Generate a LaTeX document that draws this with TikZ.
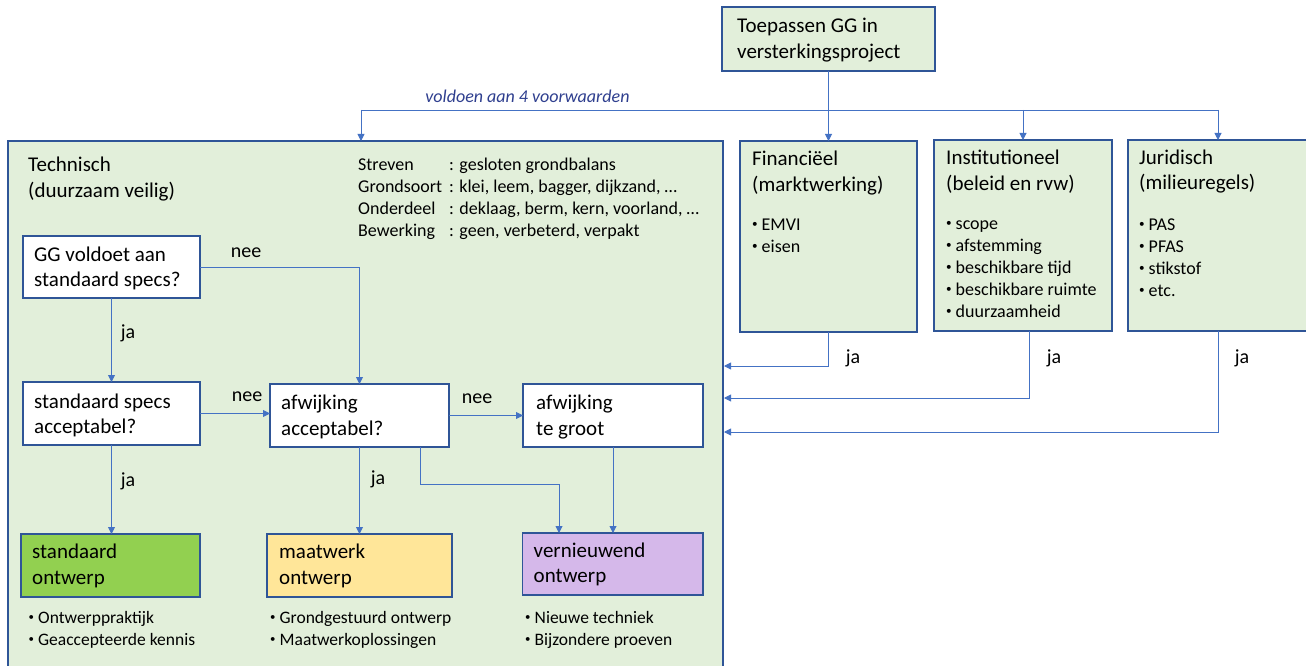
\documentclass[tikz,border=0pt]{standalone}
\usepackage{fontspec}
\setmainfont{Carlito}
\usetikzlibrary{arrows.meta}
\definecolor{paleg}{HTML}{E2EFDA}
\definecolor{frame}{HTML}{2F5597}
\definecolor{link}{HTML}{4472C4}
\definecolor{stdgreen}{HTML}{92D050}
\definecolor{custyellow}{HTML}{FFE699}
\definecolor{newpurple}{HTML}{D5B8EA}
\definecolor{notecol}{HTML}{2F3F8F}
\newcommand{\itm}[1]{\makebox[9.5pt][l]{\raisebox{0.16em}{\scalebox{0.62}{•}}}#1}
\newcommand{\rowlbl}[1]{\makebox[91pt][l]{#1}}
\begin{document}
\begin{tikzpicture}[x=1pt,y=-1pt,
  panel/.style={draw=frame, line width=1.4pt, fill=paleg, anchor=north west,
    inner sep=0pt, outer sep=0pt},
  choice/.style={panel, fill=white},
  conn/.style={draw=link, line width=0.9pt},
  arr/.style={conn, -{Triangle[length=7pt,width=7pt]}},
  ttl/.style={anchor=west, align=left, inner sep=0pt, font=\fontsize{21}{25.5}\selectfont},
  body/.style={anchor=west, align=left, inner sep=0pt, font=\fontsize{18}{22}\selectfont},
  small/.style={anchor=west, align=left, inner sep=0pt, font=\fontsize{17.5}{22}\selectfont},
  lbl/.style={inner sep=0pt, font=\fontsize{20}{24}\selectfont},
  note/.style={inner sep=0pt, text=notecol, font=\fontsize{18}{22}\selectfont\itshape}
]
\clip (0,0) rectangle (1306,666);
\fill[white] (0,0) rectangle (1306,666);

% main panels
\node[panel, minimum width=213pt, minimum height=64pt] (top) at (722,7) {};
\node[panel, minimum width=715pt, minimum height=545pt] (tech) at (8,141) {};
\node[panel, minimum width=177pt, minimum height=191pt] (fin) at (740,141) {};
\node[panel, minimum width=178pt, minimum height=191pt] (inst) at (934,140) {};
\node[panel, minimum width=180pt, minimum height=191pt] (jur) at (1128,140) {};

% decision boxes inside the technical panel
\node[choice, minimum width=177pt, minimum height=62pt] (gg) at (23,236) {};
\node[choice, minimum width=177pt, minimum height=63pt] (std) at (23,382) {};
\node[choice, minimum width=179pt, minimum height=63pt] (afw) at (270,384) {};
\node[choice, minimum width=180pt, minimum height=63pt] (groot) at (523,384) {};

% outcome boxes
\node[panel, fill=stdgreen, minimum width=179pt, minimum height=63pt] (stdo) at (21,534) {};
\node[panel, fill=custyellow, minimum width=185pt, minimum height=63pt] (maat) at (267,534) {};
\node[panel, fill=newpurple, minimum width=180.5pt, minimum height=62pt] (vern) at (522.5,533) {};

% texts in the panels
\node[ttl] (toptxt) at (737,40) {Toepassen GG in\\versterkingsproject};
\node[ttl] (techtxt) at (28,179) {Technisch\\(duurzaam veilig)};
\node[body] (techtab) at (358,198.5) {\rowlbl{Streven}: gesloten grondbalans\\
  \rowlbl{Grondsoort}: klei, leem, bagger, dijkzand, …\\
  \rowlbl{Onderdeel}: deklaag, berm, kern, voorland, …\\
  \rowlbl{Bewerking}: geen, verbeterd, verpakt};
\node[ttl] (fintxt) at (752,173) {Financiëel\\(marktwerking)};
\node[body] (finlist) at (752,236) {\itm{EMVI}\\\itm{eisen}};
\node[ttl] (insttxt) at (946,171.5) {Institutioneel\\(beleid en rvw)};
\node[body] (instlist) at (946,269) {\itm{scope}\\\itm{afstemming}\\\itm{beschikbare tijd}\\\itm{beschikbare ruimte}\\\itm{duurzaamheid}};
\node[ttl] (jurtxt) at (1139,171.5) {Juridisch\\(milieuregels)};
\node[body] (jurlist) at (1139,258) {\itm{PAS}\\\itm{PFAS}\\\itm{stikstof}\\\itm{etc.}};

\node[ttl] (ggtxt) at (34,268.5) {GG voldoet aan\\standaard specs?};
\node[ttl] (stdtxt) at (34,415.5) {standaard specs\\acceptabel?};
\node[ttl] (afwtxt) at (281,417) {afwijking\\acceptabel?};
\node[ttl] (groottxt) at (536,417) {afwijking\\te groot};
\node[ttl] (stdotxt) at (32,566) {standaard\\ontwerp};
\node[ttl] (maattxt) at (279,566) {maatwerk\\ontwerp};
\node[ttl] (verntxt) at (533.5,564.5) {vernieuwend\\ontwerp};

\node[small] (stdolist) at (28.5,630) {\itm{Ontwerppraktijk}\\\itm{Geaccepteerde kennis}};
\node[small] (maatlist) at (270,630) {\itm{Grondgestuurd ontwerp}\\\itm{Maatwerkoplossingen}};
\node[small] (vernlist) at (525,630) {\itm{Nieuwe techniek}\\\itm{Bijzondere proeven}};

% distribution from the project box to the four conditions
\coordinate (busL) at (361,110);
\draw[conn] (busL -| jur.north) -- (busL);
\draw[arr] (busL) -- (busL |- tech.north);
\draw[arr] (busL -| inst.north) -- (inst.north);
\draw[arr] (busL -| jur.north) -- (jur.north);
\draw[arr] (top.south) -- (fin.north);
\node[note] (cond) at (527.5,96) {voldoen aan 4 voorwaarden};

% feedback of the other conditions into the technical panel
\coordinate (jfin) at (724,366);
\coordinate (jinst) at (724,398);
\coordinate (jjur) at (724,432);
\draw[arr] (fin.south) |- (jfin);
\draw[arr] ([xshift=6pt]inst.south) |- (jinst);
\draw[arr] (jur.south) |- (jjur);
\node[lbl] (jafin) at (853,358) {ja};
\node[lbl] (jainst) at (1054,358) {ja};
\node[lbl] (jajur) at (1242,358) {ja};

% decision flow
\draw[arr] (gg.south) -- (std.north);
\draw[arr] (gg.east) -| (afw.north);
\draw[arr] (std.east) -- (std.east -| afw.west);
\draw[arr] (afw.east) -- (groot.west);
\draw[arr] (std.south) -- (std.south |- stdo.north);
\draw[arr] (afw.south) -- (maat.north);
\draw[arr] ([xshift=61pt]afw.south) -- ++(0,37) -| ([xshift=-53.75pt]vern.north);
\draw[arr] (groot.south) -- (groot.south |- vern.north);

\node[lbl] (nee1) at (246,253) {nee};
\node[lbl] (ja1) at (128,333) {ja};
\node[lbl] (nee2) at (247,397) {nee};
\node[lbl] (nee3) at (477,399) {nee};
\node[lbl] (ja2) at (128,481) {ja};
\node[lbl] (ja3) at (378,479) {ja};
\end{tikzpicture}
\end{document}
